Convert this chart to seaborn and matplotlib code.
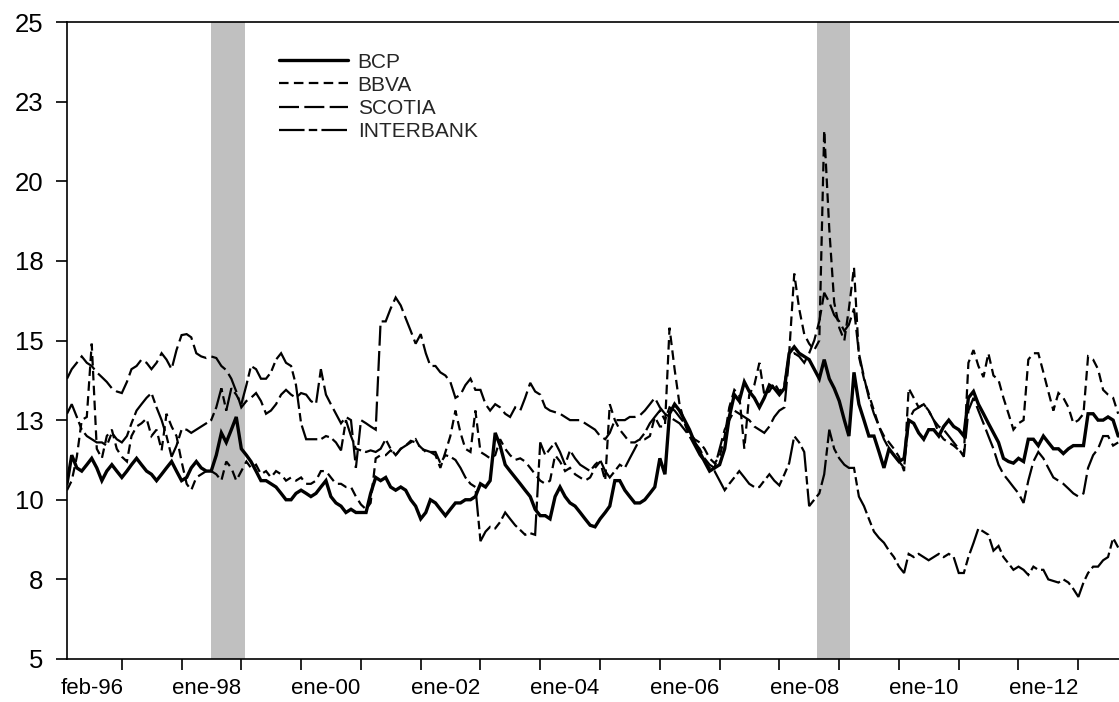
import numpy as np
import pandas as pd
import matplotlib
matplotlib.use("Agg")
import matplotlib.pyplot as plt
import matplotlib.dates as mdates
from matplotlib.ticker import NullFormatter
import seaborn as sns

# Monthly series starting February 1996
inicio = "1996-02-01"

bcp = [
    10.5, 11.4, 11.0, 10.9, 11.1, 11.3, 11.0, 10.6, 10.9, 11.1, 10.9, 10.7,
    10.9, 11.1, 11.3, 11.1, 10.9, 10.8, 10.6, 10.8, 11.0, 11.2, 10.9, 10.6,
    10.7, 11.0, 11.2, 11.0, 10.9, 10.9, 11.4, 12.1, 11.8, 12.2, 12.6, 11.6,
    11.4, 11.2, 10.9, 10.6, 10.6, 10.5, 10.4, 10.2, 10.0, 10.0, 10.2, 10.3,
    10.2, 10.1, 10.2, 10.4, 10.6, 10.1, 9.9, 9.8, 9.6, 9.7, 9.6, 9.6,
    9.6, 10.2, 10.7, 10.6, 10.7, 10.4, 10.3, 10.4, 10.3, 10.0, 9.8, 9.4,
    9.6, 10.0, 9.9, 9.7, 9.5, 9.7, 9.9, 9.9, 10.0, 10.0, 10.1, 10.5,
    10.4, 10.6, 12.1, 11.7, 11.1, 10.9, 10.7, 10.5, 10.3, 10.1, 9.7, 9.5,
    9.5, 9.4, 10.1, 10.4, 10.1, 9.9, 9.8, 9.6, 9.4, 9.2, 9.15, 9.4,
    9.6, 9.8, 10.6, 10.6, 10.3, 10.1, 9.9, 9.9, 10.0, 10.2, 10.4, 11.3,
    10.8, 12.7, 13.0, 12.8, 12.5, 12.2, 11.8, 11.5, 11.2, 10.9, 11.0, 11.1,
    11.6, 12.6, 13.3, 13.1, 13.7, 13.4, 13.2, 12.9, 13.2, 13.6, 13.5, 13.3,
    13.5, 14.6, 14.8, 14.6, 14.5, 14.4, 14.1, 13.8, 14.4, 13.8, 13.5, 13.1,
    12.5, 12.0, 14.0, 13.0, 12.5, 12.0, 12.0, 11.5, 11.0, 11.6, 11.4, 11.2,
    11.3, 12.5, 12.4, 12.1, 11.9, 12.2, 12.2, 12.0, 12.3, 12.5, 12.3, 12.2,
    12.0, 13.2, 13.4, 13.0, 12.7, 12.4, 12.1, 11.8, 11.3, 11.2, 11.15, 11.3,
    11.2, 11.9, 11.9, 11.7, 12.0, 11.8, 11.6, 11.6, 11.45, 11.6, 11.7, 11.7,
    11.7, 12.7, 12.7, 12.5, 12.5, 12.6, 12.5, 12.0,
]

bbva = [
    10.3, 10.6, 11.35, 12.5, 12.6, 14.9, 11.6, 11.3, 12.0, 12.2, 11.6, 11.35,
    11.2, 12.0, 12.3, 12.4, 12.55, 12.0, 12.2, 11.55, 12.7, 12.3, 12.0, 11.2,
    10.5, 10.3, 10.7, 10.8, 10.9, 10.9, 10.8, 10.6, 11.2, 11.0, 10.6, 10.9,
    11.2, 11.0, 11.1, 10.8, 10.9, 10.7, 10.9, 10.8, 10.6, 10.7, 10.6, 10.7,
    10.5, 10.5, 10.6, 10.9, 10.9, 10.7, 10.5, 10.5, 10.4, 10.4, 10.1, 9.85,
    9.7, 9.9, 11.3, 11.4, 11.4, 11.55, 11.4, 11.6, 11.7, 11.85, 11.8, 11.65,
    11.5, 11.5, 11.4, 11.0, 11.5, 12.0, 12.8, 12.1, 11.6, 11.5, 12.8, 11.5,
    11.4, 11.3, 11.4, 11.9, 11.6, 11.4, 11.25, 11.3, 11.2, 11.0, 10.8, 10.6,
    10.5, 10.6, 11.4, 11.2, 10.9, 11.0, 10.8, 10.7, 10.6, 10.7, 11.0, 11.2,
    10.6, 13.0, 12.5, 12.2, 12.0, 11.8, 11.8, 11.9, 11.9, 12.0, 12.6, 12.3,
    12.3, 15.4, 14.1, 13.0, 12.4, 12.1, 11.9, 11.8, 11.6, 11.3, 11.15, 11.35,
    12.0, 12.9, 13.45, 13.3, 11.6, 13.3, 13.6, 14.3, 13.3, 13.4, 13.67, 13.4,
    13.6, 14.6, 17.1, 16.0, 15.2, 14.9, 14.7, 15.0, 21.6, 18.5, 16.2, 15.4,
    15.0, 16.0, 17.3, 14.5, 13.8, 13.3, 12.8, 12.3, 12.0, 11.8, 11.6, 11.35,
    10.9, 13.5, 13.2, 12.9, 13.0, 12.8, 12.5, 12.1, 11.9, 11.8, 11.7, 11.56,
    11.4, 14.3, 14.7, 14.2, 13.85, 14.6, 13.9, 13.76, 13.2, 12.7, 12.2, 12.4,
    12.5, 14.4, 14.6, 14.6, 14.0, 13.4, 12.8, 13.35, 13.2, 12.9, 12.4, 12.5,
    12.7, 14.5, 14.4, 14.1, 13.45, 13.3, 13.2, 12.7,
]

scotia = [
    13.8, 14.1, 14.3, 14.5, 14.3, 14.2, 14.0, 13.85, 13.7, 13.5, 13.4, 13.35,
    13.7, 14.1, 14.2, 14.4, 14.3, 14.1, 14.3, 14.6, 14.4, 14.1, 14.7, 15.17,
    15.2, 15.1, 14.6, 14.5, 14.45, 14.5, 14.45, 14.2, 14.07, 13.8, 13.4, 12.9,
    13.1, 13.2, 13.35, 13.1, 12.7, 12.8, 13.0, 13.3, 13.45, 13.3, 13.2, 13.35,
    13.3, 13.1, 13.0, 14.1, 13.3, 13.0, 12.7, 12.4, 12.6, 12.5, 11.0, 12.5,
    12.4, 12.3, 12.2, 15.6, 15.6, 16.0, 16.35, 16.1, 15.7, 15.3, 14.9, 15.2,
    14.6, 14.2, 14.2, 14.0, 13.9, 13.7, 13.2, 13.3, 13.6, 13.8, 13.45, 13.45,
    13.0, 12.8, 13.0, 12.9, 12.7, 12.6, 12.9, 12.8, 13.2, 13.67, 13.4, 13.3,
    12.9, 12.8, 12.75, 12.7, 12.6, 12.5, 12.5, 12.5, 12.4, 12.3, 12.2, 12.0,
    11.9, 12.1, 12.5, 12.5, 12.5, 12.6, 12.6, 12.65, 12.8, 13.0, 13.2, 12.9,
    12.7, 12.6, 12.5, 12.4, 12.2, 12.0, 11.8, 11.6, 11.3, 11.1, 11.0, 11.6,
    12.2, 12.5, 12.8, 12.7, 12.6, 12.5, 12.3, 12.2, 12.1, 12.3, 12.6, 12.8,
    12.9, 14.5, 14.6, 14.5, 14.3, 14.6, 15.0, 15.6, 16.5, 16.2, 15.8, 15.6,
    15.3, 15.5, 16.0, 14.6, 13.85, 13.2, 12.7, 12.3, 11.9, 11.6, 11.4, 11.2,
    11.0, 12.5, 12.8, 12.9, 13.0, 12.8, 12.5, 12.3, 12.2, 12.0, 11.8, 11.6,
    11.35, 12.8, 13.2, 12.8, 12.4, 12.0, 11.6, 11.1, 10.8, 10.6, 10.4, 10.2,
    9.9, 10.6, 11.2, 11.5, 11.3, 11.0, 10.7, 10.6, 10.5, 10.35, 10.2, 10.1,
    10.2, 11.0, 11.4, 11.6, 12.0, 12.0, 11.7, 11.8,
]

interbank = [
    12.7, 13.0, 12.6, 12.2, 12.0, 11.9, 11.8, 11.8, 11.7, 12.1, 11.9, 11.8,
    12.0, 12.4, 12.8, 13.0, 13.2, 13.35, 12.9, 12.5, 12.0, 11.35, 11.7, 12.2,
    12.2, 12.1, 12.2, 12.3, 12.4, 12.5, 12.9, 13.5, 12.8, 13.5, 13.3, 13.0,
    13.6, 14.2, 14.1, 13.8, 13.8, 14.0, 14.4, 14.6, 14.3, 14.2, 13.6, 12.4,
    11.9, 11.9, 11.9, 11.9, 12.0, 11.95, 11.8, 11.55, 12.5, 12.0, 11.6, 11.55,
    11.5, 11.55, 11.5, 11.6, 11.9, 11.6, 11.4, 11.6, 11.7, 11.8, 11.9, 11.6,
    11.55, 11.5, 11.5, 11.15, 11.4, 11.35, 11.25, 11.0, 10.7, 10.5, 10.4, 8.7,
    9.0, 9.15, 9.1, 9.3, 9.6, 9.4, 9.2, 9.05, 8.9, 8.95, 8.9, 11.8,
    11.4, 11.6, 11.8, 11.5, 11.1, 11.55, 11.3, 11.1, 11.0, 10.9, 11.1, 11.25,
    10.9, 10.7, 10.9, 11.1, 11.0, 11.3, 11.6, 11.9, 12.1, 12.4, 12.6, 12.8,
    12.5, 12.9, 12.8, 12.6, 12.4, 12.0, 11.7, 11.4, 11.2, 11.0, 10.9, 10.6,
    10.3, 10.5, 10.7, 10.9, 10.7, 10.5, 10.4, 10.4, 10.6, 10.8, 10.6, 10.45,
    10.8, 11.15, 12.0, 11.8, 11.5, 9.8, 10.0, 10.2, 10.8, 12.2, 11.6, 11.3,
    11.1, 11.0, 11.0, 10.1, 9.8, 9.4, 9.0, 8.8, 8.65, 8.4, 8.2, 7.9,
    7.7, 8.3, 8.2, 8.3, 8.2, 8.1, 8.2, 8.3, 8.2, 8.3, 8.2, 7.7,
    7.7, 8.2, 8.64, 9.1, 9.0, 8.9, 8.4, 8.55, 8.2, 8.0, 7.8, 7.9,
    7.8, 7.64, 7.9, 7.8, 7.8, 7.5, 7.45, 7.4, 7.5, 7.4, 7.2, 6.95,
    7.4, 7.7, 7.9, 7.9, 8.1, 8.2, 8.8, 8.5,
]

bancos = ["BCP", "BBVA", "SCOTIA", "INTERBANK"]

# Category labels on the time axis and the dates they belong to
etiquetas_x = ["feb-96", "ene-98", "ene-00", "ene-02", "ene-04",
               "ene-06", "ene-08", "ene-10", "ene-12"]
fechas_etiquetas = ["1996-02-01", "1998-01-01", "2000-01-01", "2002-01-01",
                    "2004-01-01", "2006-01-01", "2008-01-01", "2010-01-01",
                    "2012-01-01"]
etiquetas_y = ["5", "8", "10", "13", "15", "18", "20", "23", "25"]

# Crisis periods (shaded bands)
crisis = [("1998-07-01", "1999-01-25"), ("2008-08-15", "2009-03-08")]

# ---------------------------------------------------------------
fechas = pd.date_range(inicio, periods=len(bcp), freq="MS")
n = len(fechas)
df = pd.DataFrame({
    "fecha": np.tile(fechas, len(bancos)),
    "valor": bcp + bbva + scotia + interbank,
    "banco": np.repeat(bancos, n),
})

sns.set_theme(style="white")
plt.rcParams["font.family"] = ["Liberation Sans", "DejaVu Sans"]

W, H = 1119, 702
fig = plt.figure(figsize=(W / 100, H / 100), dpi=100)
ax = fig.add_axes([67 / W, 43 / H, (W - 67) / W, 637 / H])

for a, b in crisis:
    ax.axvspan(pd.Timestamp(a), pd.Timestamp(b), color="#c0c0c0", lw=0, zorder=0)

estilos = {
    "BCP": "",
    "BBVA": (4.3, 2.4),
    "SCOTIA": (9.0, 2.4),
    "INTERBANK": (11.5, 1.9, 3.8, 1.9),
}
grosores = {"BCP": 2.4, "BBVA": 1.6, "SCOTIA": 1.6, "INTERBANK": 1.6}

sns.lineplot(
    data=df, x="fecha", y="valor",
    hue="banco", style="banco", size="banco",
    hue_order=bancos, style_order=bancos, size_order=bancos,
    palette={b: "black" for b in bancos},
    dashes=estilos, sizes=grosores,
    estimator=None, legend=False, ax=ax,
)

lineas = ax.get_lines()[:len(bancos)]
for ln in lineas:
    ln.set_solid_joinstyle("miter")
    ln.set_dash_joinstyle("miter")

ax.legend(
    lineas, bancos,
    loc="upper left", bbox_to_anchor=(0.2015, 0.952),
    frameon=False, fontsize=15,
    handlelength=3.3, handletextpad=0.48, labelspacing=0.2,
    borderpad=0, borderaxespad=0,
)

# Axes limits and ticks
ax.set_xlim(fechas[0], fechas[-1] + pd.Timedelta(days=5))
ax.set_ylim(5, 25)
ax.set_yticks(np.arange(5, 25.01, 2.5))
ax.set_yticklabels(etiquetas_y)

ax.xaxis.set_major_locator(mdates.YearLocator(month=1, day=1))
ax.xaxis.set_major_formatter(NullFormatter())
pos_etiquetas = [pd.Timestamp(f) + pd.DateOffset(months=5) for f in fechas_etiquetas]
ax.set_xticks(pos_etiquetas, minor=True)
ax.set_xticklabels(etiquetas_x, minor=True)

ax.tick_params(axis="y", which="major", direction="out", length=8, width=1.2,
               color="black", labelsize=18.5, pad=9, left=True, labelcolor="black")
ax.tick_params(axis="x", which="major", direction="out", length=8, width=1.2,
               color="black", bottom=True)
ax.tick_params(axis="x", which="minor", length=0, labelsize=16, pad=14,
               labelcolor="black", bottom=True)

ax.set_xlabel("")
ax.set_ylabel("")
for lado in ["left", "bottom", "top"]:
    ax.spines[lado].set_visible(True)
    ax.spines[lado].set_color("black")
    ax.spines[lado].set_linewidth(1.2)
ax.spines["right"].set_visible(False)
ax.grid(False)

fig.savefig("out.png", dpi=100)
